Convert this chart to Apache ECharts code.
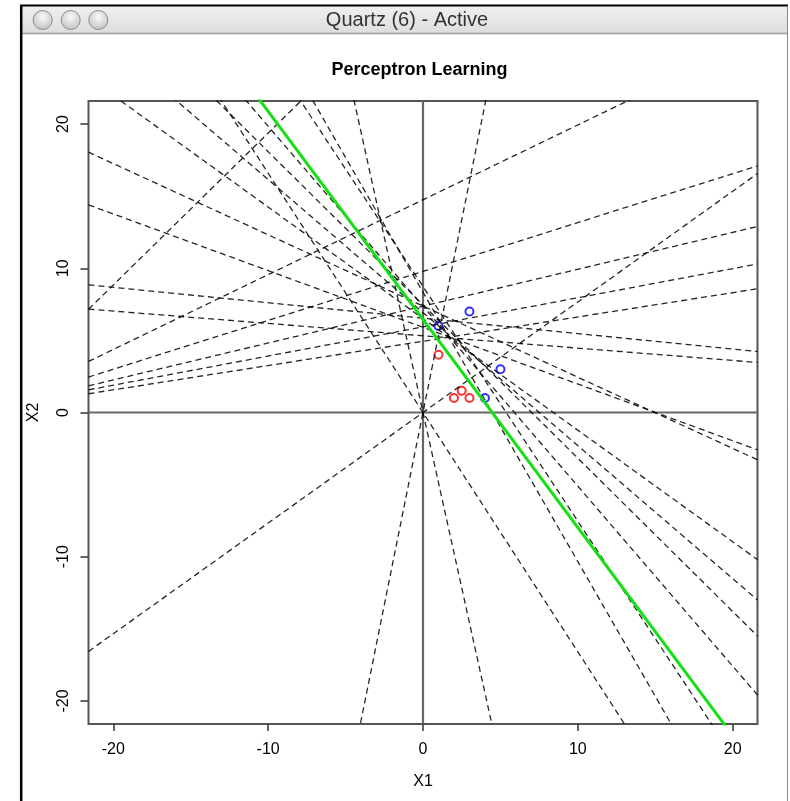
<!DOCTYPE html>
<html><head><meta charset="utf-8">
<script src="https://cdn.jsdelivr.net/npm/echarts@6/dist/echarts.min.js"></script>
<style>html,body{margin:0;padding:0;background:#fff}#c{width:790px;height:801px}</style>
</head><body><div id="c"></div>
<script>
// ---- data ----
const xTicks = [-20, -10, 0, 10, 20];
const yTicks = [-20, -10, 0, 10, 20];
const axisLimit = 21.6;               // R's 4% extension of [-20, 20]
const redX  = [1, 2, 2.5, 3];
const redY  = [4, 1, 1.5, 1];
const blueX = [3, 1, 5, 4];
const blueY = [7, 6, 3, 1];
// intermediate perceptron boundaries, x2 = intercept + slope * x1
const lineIntercepts = [0, 0, 0, 0, 14.75, 29.9, 9.78, 7.375, 5.935, 4.94, 6.54, 5.32, 7.385, 5.905, 6.51, 6.93, 7.46, 7.37, 8.74, 8.34];
const lineSlopes     = [0.767, 5.34, -4.86, -1.66, 0.519, 1.053, 0.339, 0.2558, 0.2021, 0.1685, -0.107, -0.0856, -0.4938, -0.3933, -0.7737, -0.9227, -1.063, -1.248, -1.628, -1.868];
const finalIntercept = 6.45;
const finalSlope = -1.443;

const FONT = '"Liberation Sans", Arial, Helvetica, sans-serif';
const chart = echarts.init(document.getElementById('c'), null, {renderer: 'canvas'});

function seg(b, m) {
  return [[-axisLimit, b - m * axisLimit], [axisLimit, b + m * axisLimit]];
}

const series = [];
// zero lines
series.push({type: 'line', data: [[0, -axisLimit], [0, axisLimit]], symbol: 'none', silent: true,
  lineStyle: {color: '#666', width: 2.2}, z: 1});
series.push({type: 'line', data: [[-axisLimit, 0], [axisLimit, 0]], symbol: 'none', silent: true,
  lineStyle: {color: '#666', width: 2.2}, z: 1});
// points
series.push({type: 'scatter', data: redX.map((x, i) => [x, redY[i]]), symbol: 'emptyCircle', symbolSize: 8,
  itemStyle: {color: '#ff0000', borderColor: '#ff0000', borderWidth: 1.3}, z: 2, silent: true});
series.push({type: 'scatter', data: blueX.map((x, i) => [x, blueY[i]]), symbol: 'emptyCircle', symbolSize: 8,
  itemStyle: {color: '#0000ff', borderColor: '#0000ff', borderWidth: 1.3}, z: 2, silent: true});
// dashed intermediate lines
lineIntercepts.forEach((b, i) => {
  series.push({type: 'line', data: seg(b, lineSlopes[i]), symbol: 'none', silent: true, clip: true,
    lineStyle: {color: '#000', width: 1.3, type: [6, 4], opacity: 0.85}, z: 3});
});
// final separating line
series.push({type: 'line', data: seg(finalIntercept, finalSlope), symbol: 'none', silent: true, clip: true,
  lineStyle: {color: '#14e014', width: 3}, z: 4});

const circ = cx => ({type: 'circle', shape: {cx: cx, cy: 20, r: 9.5}, silent: true,
  style: {fill: new echarts.graphic.RadialGradient(0.5, 0.35, 0.7, [{offset: 0, color: '#fafafa'}, {offset: 1, color: '#bdbdbd'}]),
          stroke: '#8c8c8c', lineWidth: 1}});

chart.setOption({
  animation: false,
  backgroundColor: '#fff',
  grid: {left: 88.5, top: 101, width: 669, height: 623, show: true, borderColor: '#555', borderWidth: 2, backgroundColor: 'transparent'},
  xAxis: {type: 'value', min: -axisLimit, max: axisLimit,
    axisLine: {show: false, onZero: false}, splitLine: {show: false},
    axisTick: {show: true, customValues: xTicks, length: 7, lineStyle: {color: '#333', width: 1.5}},
    axisLabel: {customValues: xTicks, margin: 18, color: '#000', fontSize: 16, fontFamily: FONT},
    name: 'X1', nameLocation: 'middle', nameGap: 50, nameTextStyle: {color: '#000', fontSize: 16, fontFamily: FONT}},
  yAxis: {type: 'value', min: -axisLimit, max: axisLimit,
    axisLine: {show: false, onZero: false}, splitLine: {show: false},
    axisTick: {show: true, customValues: yTicks, length: 8, lineStyle: {color: '#333', width: 1.5}},
    axisLabel: {customValues: yTicks, rotate: 90, margin: 17, color: '#000', fontSize: 16, fontFamily: FONT},
    name: 'X2', nameLocation: 'middle', nameGap: 47, nameTextStyle: {color: '#000', fontSize: 16, fontFamily: FONT}},
  series: series,
  graphic: {elements: [
    {type: 'rect', shape: {x: 20, y: 5, width: 768, height: 28}, silent: true,
      style: {fill: new echarts.graphic.LinearGradient(0, 0, 0, 1, [{offset: 0, color: '#f0f0f0'}, {offset: 1, color: '#dedede'}])}},
    {type: 'line', shape: {x1: 20, y1: 33.5, x2: 788, y2: 33.5}, silent: true, style: {stroke: '#9c9c9c', lineWidth: 1.5}},
    {type: 'line', shape: {x1: 20, y1: 5.5, x2: 788, y2: 5.5}, silent: true, style: {stroke: '#000', lineWidth: 2}},
    {type: 'line', shape: {x1: 21.2, y1: 5, x2: 21.2, y2: 801}, silent: true, style: {stroke: '#000', lineWidth: 2.5}},
    {type: 'line', shape: {x1: 787.5, y1: 6, x2: 787.5, y2: 801}, silent: true, style: {stroke: '#8a8a8a', lineWidth: 1}},
    circ(42.7), circ(70.7), circ(98.3),
    {type: 'text', x: 407, y: 20, silent: true,
      style: {text: 'Quartz (6) - Active', font: '20px ' + FONT, fill: '#333', align: 'center', verticalAlign: 'middle', textAlign: 'center', textVerticalAlign: 'middle'}},
    {type: 'text', x: 419.5, y: 70, silent: true,
      style: {text: 'Perceptron Learning', font: 'bold 18px ' + FONT, fill: '#000', align: 'center', verticalAlign: 'middle', textAlign: 'center', textVerticalAlign: 'middle'}}
  ]}
});
</script></body></html>
